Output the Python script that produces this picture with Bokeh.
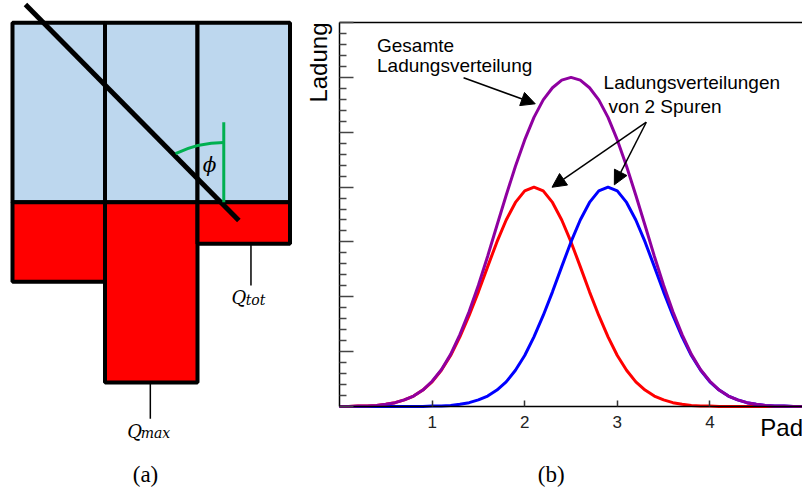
import math
from bokeh.plotting import figure
from bokeh.layouts import row
from bokeh.models import Range1d, Label, Arrow, NormalHead, LinearAxis, FixedTicker
from bokeh.embed import file_html
from bokeh.resources import INLINE

# ---------------- panel (a): pads and charges (pad units) ----------------
pad_edges = [0, 1, 2, 3]
pad_height = 1.94
pad_charge = [0.86, 1.95, 0.45]
track_x = [0.14, 2.447]
track_y = [2.137, -0.198]
phi_vertex_x = 2.284
phi_line_top = 0.865
phi_arc_center_y = -0.544
phi_arc_radius = 1.19
phi_arc_span_deg = 26

# ---------------- panel (b): charge distributions ----------------
pad_pos = [0.0, 0.1, 0.2, 0.3, 0.4, 0.5, 0.6, 0.7, 0.8, 0.9,
           1.0, 1.1, 1.2, 1.3, 1.4, 1.5, 1.6, 1.7, 1.8, 1.9,
           2.0, 2.1, 2.2, 2.3, 2.4, 2.5, 2.6, 2.7, 2.8, 2.9,
           3.0, 3.1, 3.2, 3.3, 3.4, 3.5, 3.6, 3.7, 3.8, 3.9,
           4.0, 4.1, 4.2, 4.3, 4.4, 4.5, 4.6, 4.7, 4.8, 4.9, 5.0]
track1_charge = [0.00, 0.00, 0.01, 0.01, 0.02, 0.04, 0.07, 0.12, 0.19, 0.30,
                 0.45, 0.66, 0.93, 1.27, 1.66, 2.09, 2.55, 3.00, 3.40, 3.72,
                 3.93, 4.00, 3.93, 3.72, 3.40, 3.00, 2.55, 2.09, 1.66, 1.27,
                 0.93, 0.66, 0.45, 0.30, 0.19, 0.12, 0.07, 0.04, 0.02, 0.01,
                 0.01, 0.00, 0.00, 0.00, 0.00, 0.00, 0.00, 0.00, 0.00, 0.00, 0.00]
track2_charge = [0.00, 0.00, 0.00, 0.00, 0.00, 0.00, 0.00, 0.00, 0.00, 0.00,
                 0.01, 0.01, 0.02, 0.04, 0.07, 0.12, 0.19, 0.30, 0.45, 0.66,
                 0.93, 1.27, 1.66, 2.09, 2.55, 3.00, 3.40, 3.72, 3.93, 4.00,
                 3.93, 3.72, 3.40, 3.00, 2.55, 2.09, 1.66, 1.27, 0.93, 0.66,
                 0.45, 0.30, 0.19, 0.12, 0.07, 0.04, 0.02, 0.01, 0.01, 0.00, 0.00]
total_charge = [0.00, 0.00, 0.01, 0.01, 0.02, 0.04, 0.07, 0.12, 0.19, 0.30,
                0.46, 0.67, 0.95, 1.31, 1.73, 2.21, 2.74, 3.30, 3.85, 4.38,
                4.86, 5.27, 5.59, 5.81, 5.95, 6.00, 5.95, 5.81, 5.59, 5.27,
                4.86, 4.38, 3.85, 3.30, 2.74, 2.21, 1.73, 1.31, 0.95, 0.67,
                0.46, 0.30, 0.19, 0.12, 0.07, 0.04, 0.02, 0.01, 0.01, 0.00, 0.00]
x_ticks = [1, 2, 3, 4]
y_ticks = [0, 1, 2, 3, 4, 5, 6, 7]

SANS = "Liberation Sans"
SERIF = "Liberation Serif"
MATH = "DejaVu Serif"

# ======================= figure (a) =======================
fa = figure(width=300, height=492,
            x_range=Range1d(-0.1297, 3.1135), y_range=Range1d(-3.138, 2.181),
            output_backend="svg", toolbar_location=None,
            x_axis_location=None, y_axis_location=None, min_border=0)
fa.outline_line_color = None
fa.grid.visible = False

lefts = pad_edges[:-1]
rights = pad_edges[1:]
fa.quad(left=lefts, right=rights, bottom=[0] * 3, top=[pad_height] * 3,
        fill_color="#bdd7ee", line_color="black", line_width=4)
fa.quad(left=lefts, right=rights, top=[0] * 3, bottom=[-c for c in pad_charge],
        fill_color="#ff0000", line_color="black", line_width=4)
fa.line(track_x, track_y, line_color="black", line_width=5)
fa.line([phi_vertex_x, phi_vertex_x], [0, phi_line_top], line_color="#00b050", line_width=3)
fa.arc(x=[phi_vertex_x], y=[phi_arc_center_y], radius=phi_arc_radius,
       start_angle=math.radians(90), end_angle=math.radians(90 + phi_arc_span_deg),
       direction="anticlock", line_color="#00b050", line_width=3)
fa.add_layout(Label(x=2.13, y=0.408, text="ϕ", text_font=MATH, text_font_style="italic",
                    text_font_size="20px", text_align="center", text_baseline="middle",
                    text_color="black"))

# Q_tot and Q_max markers
qtot_x = 2.578
qmax_x = 1.49
fa.line([qtot_x, qtot_x], [-pad_charge[2], -0.90], line_color="black", line_width=1.5)
fa.line([qmax_x, qmax_x], [-pad_charge[1], -2.34], line_color="black", line_width=1.5)

def qlabel(x, y, s, size):
    fa.add_layout(Label(x=x, y=y, text=s, text_font=MATH, text_font_style="italic",
                        text_font_size=size, text_baseline="alphabetic", text_color="black"))

qlabel(2.368, -1.027, "Q", "18px")
qlabel(2.521, -1.055, "tot", "14px")
qlabel(1.240, -2.479, "Q", "18px")
qlabel(1.386, -2.497, "max", "14px")
fa.add_layout(Label(x=1.438, y=-2.938, text="(a)", text_font=SERIF, text_font_size="23px",
                    text_align="center", text_baseline="middle", text_color="black"))

# ======================= figure (b) =======================
# frame covers the whole canvas; axes are pinned at data locations
fb = figure(width=502, height=492, x_range=Range1d(-0.4212, 5.0), y_range=Range1d(-1.5676, 7.401),
            output_backend="svg", toolbar_location=None, min_border=0)
fb.outline_line_color = None
fb.grid.visible = False

xa = fb.xaxis[0]
xa.fixed_location = 0
xa.bounds = (0, 5)
xa.ticker = FixedTicker(ticks=x_ticks)
xa.major_tick_in = 6
xa.major_tick_out = 0
xa.major_tick_line_color = "#333333"
xa.major_tick_line_width = 1.5
xa.minor_tick_line_color = None
xa.axis_line_width = 1.5
xa.axis_line_color = "black"
xa.major_label_text_font = SANS
xa.major_label_text_font_size = "17px"
xa.major_label_text_color = "#222222"
xa.major_label_standoff = 9

ya = fb.yaxis[0]
ya.fixed_location = 0
ya.bounds = (0, 7)
ya.ticker = FixedTicker(ticks=y_ticks,
                        minor_ticks=[t / 5 for t in range(35) if t % 5 != 0])
ya.major_tick_in = 14
ya.major_tick_out = 0
ya.minor_tick_in = 7
ya.minor_tick_out = 0
ya.major_tick_line_color = "#444444"
ya.minor_tick_line_color = "#444444"
ya.major_tick_line_width = 1.5
ya.minor_tick_line_width = 1.5
ya.axis_line_width = 1.5
ya.axis_line_color = "black"
ya.major_label_overrides = {t: "" for t in y_ticks}

top_axis = LinearAxis(ticker=FixedTicker(ticks=[]), fixed_location=7, bounds=(0, 5),
                      major_tick_line_color=None, minor_tick_line_color=None,
                      axis_line_width=1.5, axis_line_color="black")
fb.add_layout(top_axis, "above")

fb.line(pad_pos, track1_charge, line_color="#ff0000", line_width=3)
fb.line(pad_pos, track2_charge, line_color="#0000ff", line_width=3)
fb.line(pad_pos, total_charge, line_color="#8f00a0", line_width=3)

def txt(x, y, s, size="19px", **kw):
    fb.add_layout(Label(x=x, y=y, text=s, text_font=SANS, text_font_size=size,
                        text_color="black", text_baseline="alphabetic", **kw))

txt(-0.229, 7.0, "Ladung", size="24px", angle=math.pi / 2, text_align="right")
txt(4.544, -0.38, "Pad", size="24px")
txt(0.405, 6.58, "Gesamte")
txt(0.405, 6.216, "Ladungsverteilung")
txt(2.852, 5.90, "Ladungsverteilungen")
txt(2.906, 5.474, "von 2 Spuren")
fb.add_layout(Label(x=2.287, y=-1.2395, text="(b)", text_font=SERIF, text_font_size="23px",
                    text_align="center", text_baseline="middle", text_color="black"))

def arrow(x0, y0, x1, y1):
    fb.add_layout(Arrow(end=NormalHead(size=14, fill_color="black", line_color="black"),
                        x_start=x0, y_start=y0, x_end=x1, y_end=y1,
                        line_color="black", line_width=1.5))

arrow(1.340, 5.992, 2.114, 5.518)
arrow(3.313, 5.182, 2.295, 3.997)
arrow(3.313, 5.182, 2.968, 4.041)

layout = row(fa, fb)
open("out.html", "w").write(file_html(layout, INLINE))
